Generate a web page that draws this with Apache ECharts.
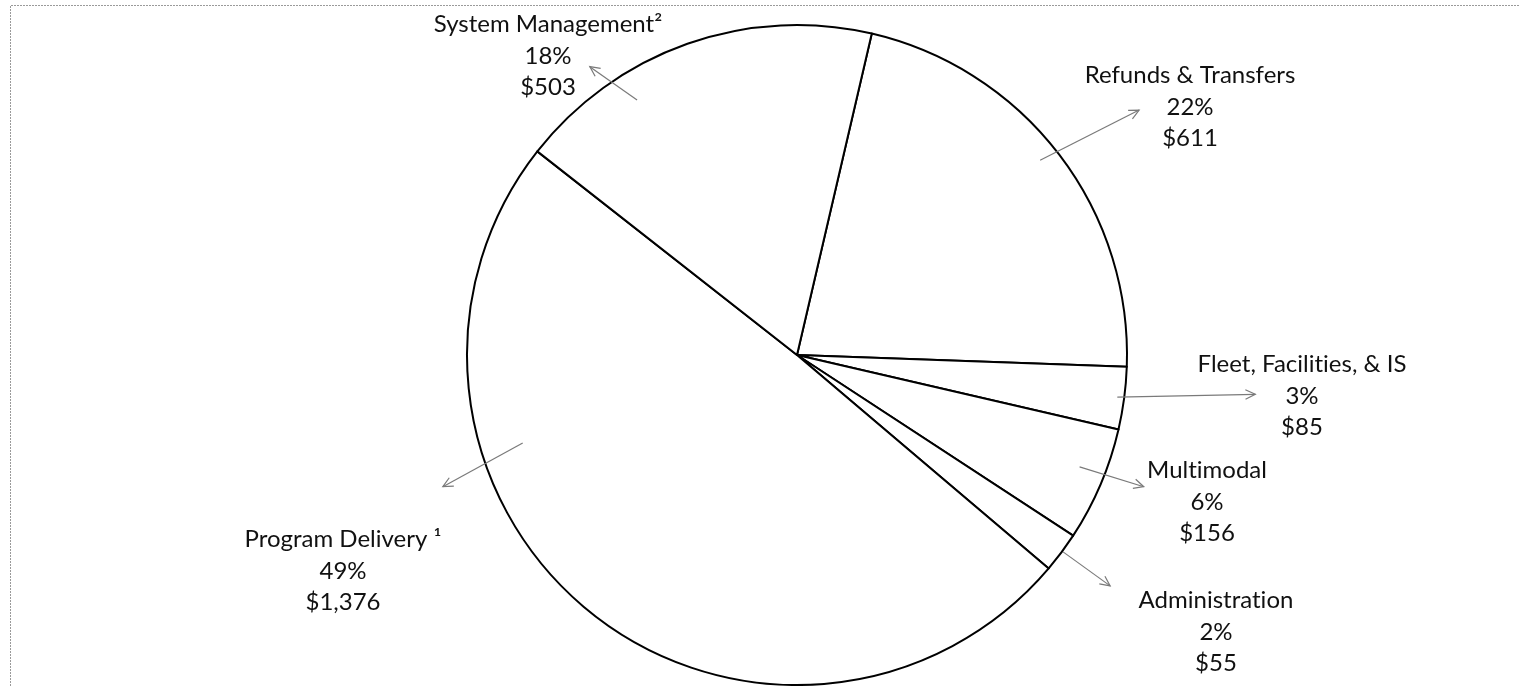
<!DOCTYPE html>
<html><head><meta charset="utf-8">
<script src="https://cdn.jsdelivr.net/npm/echarts@6/dist/echarts.min.js"></script>
<style>html,body{margin:0;padding:0;background:#fff}#c{width:1519px;height:686px}</style>
</head><body><div id="c"></div>
<script>
// ---- data ----
const categories = ['Refunds & Transfers', 'Fleet, Facilities, & IS', 'Multimodal', 'Administration', 'Program Delivery \u00b9', 'System Management\u00b2'];
const values = [611, 85, 156, 55, 1376, 503];

// ---- layout / style (not data) ----
const CX = 797, CY = 355, R = 330;
const START_ANGLE = 76.9; // first slice begins ~13.1 deg clockwise from 12 o'clock
const LABEL_POS = [      // label block centres
  [1190, 107], [1302, 396], [1207, 502], [1216, 632], [343, 571], [548, 56]
];
// callout arrows, polar about the pie centre: [tailDeg, tailR/R, headDeg, headR/R] (deg clockwise from 12 o'clock)
const ARROWS = [
  [51.3, 0.944, 54.4, 1.275],
  [97.5, 0.979, 94.9, 1.394],
  [111.6, 0.921, 110.8, 1.124],
  [126.5, 1.003, 126.4, 1.179],
  [252.2, 0.873, 249.6, 1.145],
  [327.9, 0.912, 324.3, 1.076]
];

function polar(deg, f) {
  const a = deg * Math.PI / 180;
  return [CX + Math.sin(a) * f * R, CY - Math.cos(a) * f * R];
}
// break the "ti" ligature of the font so the text reads like the reference
const noLig = s => s.replace(/ti/g, 't\u200Ci');

const chart = echarts.init(document.getElementById('c'), null, {renderer: 'canvas'});
chart.setOption({
  backgroundColor: '#fff',
  animation: false,
  graphic: [{
    type: 'polyline', silent: true, z: 0,
    shape: {points: [[10.5, 686], [10.5, 5.5], [1519, 5.5]]},
    style: {stroke: '#9a9a9a', lineWidth: 1, lineDash: [2, 1], fill: null}
  }],
  series: [{
    type: 'pie',
    silent: true,
    center: [CX, CY],
    radius: [0, R],
    startAngle: START_ANGLE,
    clockwise: true,
    avoidLabelOverlap: false,
    itemStyle: {color: '#fff', borderColor: '#000', borderWidth: 2},
    label: {
      show: true,
      position: 'outside',
      color: '#111',
      fontFamily: 'Lato',
      fontSize: 24,
      lineHeight: 31.5,
      align: 'center',
      formatter: p => noLig(p.name) + '\n' + p.percent + '%\n$' + p.value.toLocaleString('en-US')
    },
    labelLine: {show: false},
    labelLayout: params => {
      const p = LABEL_POS[params.dataIndex];
      return {x: p[0], y: p[1], align: 'center', verticalAlign: 'middle'};
    },
    percentPrecision: 0,
    data: categories.map((c, i) => ({name: c, value: values[i]}))
  }, {
    type: 'custom',
    coordinateSystem: 'none',
    silent: true,
    z: 5,
    data: categories.map((c, i) => [i]),
    renderItem: (params, api) => {
      const a = ARROWS[params.dataIndex];
      const t = polar(a[0], a[1]);
      const h = polar(a[2], a[3]);
      const ang = Math.atan2(h[1] - t[1], h[0] - t[0]);
      const L = 11, spread = 0.45;
      const p1 = [h[0] - L * Math.cos(ang - spread), h[1] - L * Math.sin(ang - spread)];
      const p2 = [h[0] - L * Math.cos(ang + spread), h[1] - L * Math.sin(ang + spread)];
      const st = {stroke: '#7a7a7a', lineWidth: 1.2, fill: null};
      return {
        type: 'group',
        children: [
          {type: 'line', shape: {x1: t[0], y1: t[1], x2: h[0], y2: h[1]}, style: st},
          {type: 'polyline', shape: {points: [p1, h, p2]}, style: st}
        ]
      };
    }
  }]
});
</script>
</body></html>
